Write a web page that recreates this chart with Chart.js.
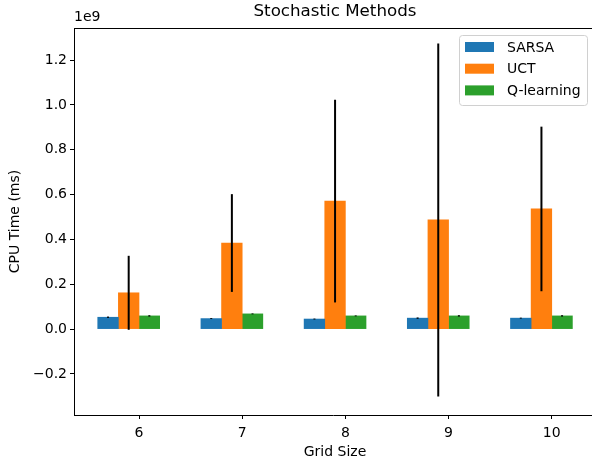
<!DOCTYPE html>
<html>
<head>
<meta charset="utf-8">
<title>Stochastic Methods</title>
<script src="https://cdn.jsdelivr.net/npm/chart.js@4"></script>
<style>
  html, body { margin: 0; padding: 0; background: #fff; }
  #wrap { width: 592px; height: 465px; }
</style>
</head>
<body>
<div id="wrap"><canvas id="cpuChart" width="592" height="465"></canvas></div>
<script>
// grid sizes (x axis)
const gridSizes = [6, 7, 8, 9, 10];
// mean CPU time, in units of 1e9 ms
const sarsa  = [0.053, 0.047, 0.045, 0.049, 0.049];
const uct    = [0.162, 0.384, 0.571, 0.487, 0.536];
const qlearn = [0.059, 0.068, 0.059, 0.059, 0.059];
// error bar half-lengths, 1e9 ms
const sarsaErr  = [0.003, 0.002, 0.002, 0.003, 0.002];
const uctErr    = [0.165, 0.218, 0.452, 0.787, 0.367];
const qlearnErr = [0.003, 0.002, 0.002, 0.003, 0.003];
// tick labels
const yTicks = [-0.2, 0, 0.2, 0.4, 0.6, 0.8, 1.0, 1.2];

const barWidth = 0.2;

// bars sit at x - 0.3, x - 0.1, x + 0.1 (like the matplotlib script)
function series(label, vals, errs, shift, color) {
    return {
        label: label,
        data: gridSizes.map((g, i) => ({ x: g + shift, y: vals[i] })),
        errors: errs,
        backgroundColor: color,
        borderWidth: 0,
        grouped: false,
        categoryPercentage: 1,
        barPercentage: 1
    };
}

const fmt = v => (Math.abs(v) < 1e-9 ? '0.0' : v.toFixed(1)).replace('-', '\u2212');

// error bars, drawn after the bars
const errorBars = {
    id: 'errorBars',
    afterDatasetsDraw(chart) {
        const ctx = chart.ctx;
        const y = chart.scales.y;
        const area = chart.chartArea;
        ctx.save();
        ctx.beginPath();
        ctx.rect(area.left, area.top, area.right - area.left, area.bottom - area.top);
        ctx.clip();
        ctx.strokeStyle = '#000';
        ctx.lineWidth = 2;
        chart.data.datasets.forEach((ds, di) => {
            const meta = chart.getDatasetMeta(di);
            meta.data.forEach((bar, i) => {
                const v = ds.data[i].y, e = ds.errors[i];
                ctx.beginPath();
                ctx.moveTo(bar.x, y.getPixelForValue(v - e));
                ctx.lineTo(bar.x, y.getPixelForValue(v + e));
                ctx.stroke();
            });
        });
        ctx.restore();
    }
};

// title, axis labels, offset text, top spine and legend in matplotlib style
const decor = {
    id: 'decor',
    afterDraw(chart) {
        const ctx = chart.ctx;
        const a = chart.chartArea;
        ctx.save();
        ctx.fillStyle = '#000';
        ctx.textBaseline = 'middle';

        // top spine
        ctx.strokeStyle = '#000';
        ctx.lineWidth = 1;
        ctx.beginPath();
        ctx.moveTo(a.left, a.top + 0.5);
        ctx.lineTo(a.right, a.top + 0.5);
        ctx.stroke();

        ctx.textAlign = 'center';
        ctx.font = '16.7px "DejaVu Sans"';
        ctx.fillText('Stochastic Methods', 335, 12);

        ctx.font = '14px "DejaVu Sans"';
        ctx.fillText('Grid Size', 335, 452);

        ctx.textAlign = 'left';
        ctx.fillText('1e9', 74, 17);

        ctx.save();
        ctx.translate(15, (a.top + a.bottom) / 2);
        ctx.rotate(-Math.PI / 2);
        ctx.textAlign = 'center';
        ctx.fillText('CPU Time (ms)', 0, 0);
        ctx.restore();

        // legend box
        const bx = 459.5, by = a.top + 7.5, bw = 128, bh = 70, r = 3;
        ctx.beginPath();
        ctx.moveTo(bx + r, by);
        ctx.arcTo(bx + bw, by, bx + bw, by + bh, r);
        ctx.arcTo(bx + bw, by + bh, bx, by + bh, r);
        ctx.arcTo(bx, by + bh, bx, by, r);
        ctx.arcTo(bx, by, bx + bw, by, r);
        ctx.closePath();
        ctx.fillStyle = 'rgba(255,255,255,0.8)';
        ctx.fill();
        ctx.strokeStyle = '#d0d0d0';
        ctx.stroke();

        chart.data.datasets.forEach((ds, i) => {
            const cy = by + 11.5 + i * 21.7;
            ctx.fillStyle = ds.backgroundColor;
            ctx.fillRect(465, cy - 5, 29, 10);
            ctx.fillStyle = '#000';
            ctx.textAlign = 'left';
            ctx.fillText(ds.label, 507, cy + 1);
        });
        ctx.restore();
    }
};

Chart.defaults.font.family = '"DejaVu Sans"';
Chart.defaults.font.size = 14;
Chart.defaults.color = '#000';

new Chart(document.getElementById('cpuChart'), {
    type: 'bar',
    data: {
        datasets: [
            series('SARSA', sarsa, sarsaErr, -0.3, '#1f77b4'),
            series('UCT', uct, uctErr, -0.1, '#ff7f0e'),
            series('Q-learning', qlearn, qlearnErr, 0.1, '#2ca02c')
        ]
    },
    options: {
        responsive: false,
        devicePixelRatio: 1,
        animation: false,
        layout: { padding: { top: 28, right: 0, left: 0, bottom: 0 } },
        plugins: {
            legend: { display: false },
            title: { display: false },
            tooltip: { enabled: false }
        },
        scales: {
            x: {
                type: 'linear',
                min: 5.37,
                max: 10.39,
                offset: false,
                afterFit: s => { s.height = 50; },
                afterBuildTicks: s => { s.ticks = gridSizes.map(v => ({ value: v })); },
                grid: { offset: false, drawOnChartArea: false, drawTicks: true, tickLength: 4, color: '#000' },
                border: { display: true, color: '#000', width: 1 },
                ticks: { padding: 6, maxRotation: 0, callback: v => String(v) }
            },
            y: {
                min: -0.383,
                max: 1.343,
                afterFit: s => { s.width = 74; },
                afterBuildTicks: s => { s.ticks = yTicks.map(v => ({ value: v })); },
                grid: { drawOnChartArea: false, drawTicks: true, tickLength: 4, color: '#000' },
                border: { display: true, color: '#000', width: 1 },
                ticks: { padding: 3, callback: v => fmt(v) }
            }
        }
    },
    plugins: [errorBars, decor]
});
</script>
</body>
</html>
